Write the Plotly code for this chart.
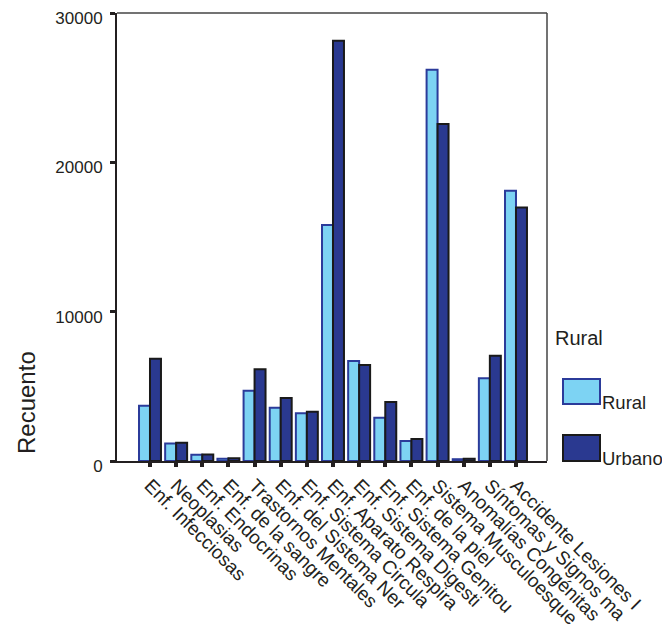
import plotly.graph_objects as go

categories = ["Enf. Infecciosas", "Neoplasias", "Enf. Endocrinas", "Enf. de la sangre",
              "Trastornos Mentales", "Enf. del Sistema Ner", "Enf. Sistema Circula",
              "Enf. Aparato Respira", "Enf. Sistema Digesti", "Enf. Sistema Genitou",
              "Enf. de la piel", "Sistema Musculoesque", "Anomalías Congénitas",
              "Síntomas y Signos ma", "Accidente Lesiones I"]
rural = [3700, 1180, 420, 150, 4710, 3570, 3190, 15800, 6700, 2900, 1340, 26200, 120, 5540, 18100]
urbano = [6850, 1230, 430, 190, 6150, 4220, 3300, 28150, 6430, 3950, 1470, 22570, 150, 7050, 16970]
y_ticks = [0, 10000, 20000, 30000]
legend_title = "Rural"
series_names = ["Rural", "Urbano"]

C_RURAL = "#7dd3f3"
C_RURAL_LINE = "#2b3b9a"
C_URB = "#2a3990"
C_URB_LINE = "#1a1a1a"
INK = "#231f20"
FONT = "Liberation Sans, Arial, sans-serif"

# page body adds an 8px offset; margins below are in figure coordinates
OFF = 8
W, H = 670, 644
SL, SR, ST, SB = 117, 547, 13, 461          # plot box on screen
L, T = SL - OFF, ST - OFF
R = W - (SR - OFF)
B = H - (SB - OFF)
pw, ph = SR - SL, SB - ST


def px(p):
    return (p - SL) / pw


def py(q):
    return (SB - q) / ph


fig = go.Figure()
fig.add_trace(go.Bar(x=categories, y=rural, name=series_names[0],
                     marker=dict(color=C_RURAL, line=dict(color=C_RURAL_LINE, width=2))))
fig.add_trace(go.Bar(x=categories, y=urbano, name=series_names[1],
                     marker=dict(color=C_URB, line=dict(color=C_URB_LINE, width=2))))

fig.update_layout(
    width=W, height=H,
    margin=dict(l=L, r=R, t=T, b=B, pad=0),
    paper_bgcolor="white", plot_bgcolor="white",
    barmode="group", bargap=0.16, bargroupgap=0,
    showlegend=False,
    font=dict(family=FONT, color=INK, size=17),
    xaxis=dict(range=[-1.262, 15.186], showgrid=False, zeroline=False, automargin=False,
               showline=True, linecolor=INK, linewidth=2,
               ticks="outside", ticklen=4, tickwidth=4, tickcolor=INK,
               tickangle=45, tickfont=dict(size=19, family=FONT, color=INK)),
    yaxis=dict(range=[0, 30000], tickvals=y_ticks, ticktext=[str(v) for v in y_ticks],
               showgrid=False, zeroline=False, automargin=False,
               showline=True, linecolor=INK, linewidth=2,
               ticks="outside", ticklen=5, tickwidth=3, tickcolor=INK,
               ticklabelstandoff=4, ticklabelshift=5, ticklabeloverflow="allow",
               tickfont=dict(size=17, family=FONT, color=INK)),
)

shapes = [
    dict(type="line", xref="paper", yref="paper", x0=0, x1=1, y0=1, y1=1,
         line=dict(color="#444", width=1.5)),
    dict(type="line", xref="paper", yref="paper", x0=1, x1=1, y0=0, y1=1,
         line=dict(color="#444", width=1.5)),
    dict(type="rect", xref="paper", yref="paper", x0=px(563), x1=px(600), y0=py(404), y1=py(379),
         fillcolor=C_RURAL, line=dict(color=C_RURAL_LINE, width=2)),
    dict(type="rect", xref="paper", yref="paper", x0=px(563), x1=px(600), y0=py(461), y1=py(435),
         fillcolor=C_URB, line=dict(color=C_URB_LINE, width=2)),
]
fig.update_layout(shapes=shapes)

annotations = [
    dict(text="Recuento", xref="paper", yref="paper", x=px(26), y=py(403),
         textangle=-90, showarrow=False, font=dict(size=24, family=FONT, color=INK),
         xanchor="center", yanchor="middle"),
    dict(text=legend_title, xref="paper", yref="paper", x=px(553), y=py(338),
         showarrow=False, font=dict(size=20, family=FONT, color=INK),
         xanchor="left", yanchor="middle"),
    dict(text=series_names[0], xref="paper", yref="paper", x=px(600), y=py(402),
         showarrow=False, font=dict(size=18.5, family=FONT, color=INK),
         xanchor="left", yanchor="middle"),
    dict(text=series_names[1], xref="paper", yref="paper", x=px(600), y=py(458),
         showarrow=False, font=dict(size=18.5, family=FONT, color=INK),
         xanchor="left", yanchor="middle"),
]
fig.update_layout(annotations=annotations)

fig.write_html("out.html")
